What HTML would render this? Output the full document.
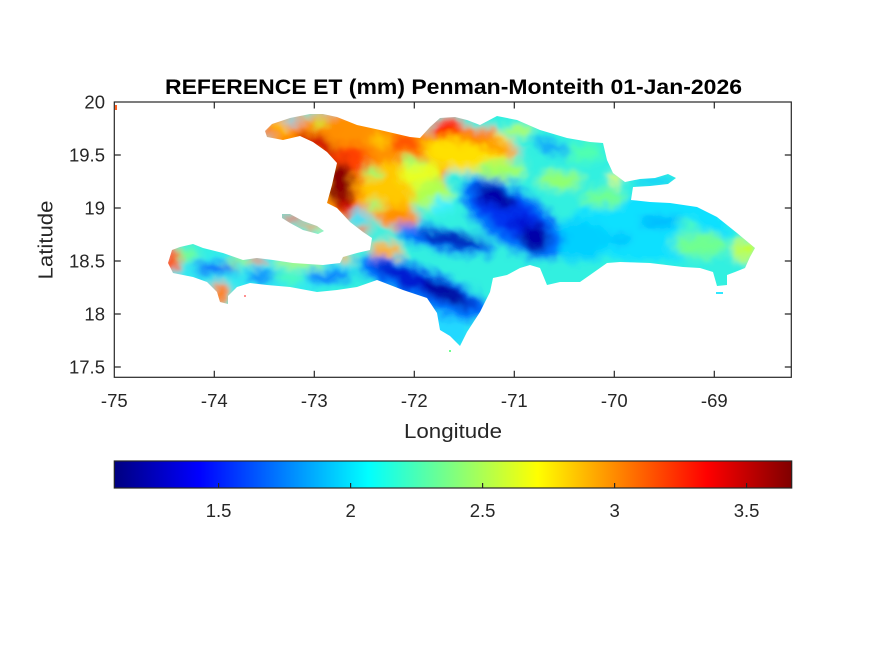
<!DOCTYPE html>
<html><head><meta charset="utf-8"><style>
html,body{margin:0;padding:0;background:#fff}
svg{display:block}
text{font-family:"Liberation Sans",Arial,sans-serif;fill:#262626}
</style></head><body>
<svg width="875" height="656" viewBox="0 0 875 656" xmlns="http://www.w3.org/2000/svg">
<defs>
<linearGradient id="jet" x1="0" y1="0" x2="1" y2="0">
<stop offset="0" stop-color="#000080"/>
<stop offset="0.125" stop-color="#0000ff"/>
<stop offset="0.375" stop-color="#00ffff"/>
<stop offset="0.625" stop-color="#ffff00"/>
<stop offset="0.875" stop-color="#ff0000"/>
<stop offset="1" stop-color="#800000"/>
</linearGradient>
<clipPath id="isl">
<path d="M265,131 L272,124 L290,118 L310,114 L323,114 L337,117 L357,125 L380,130 L410,137 L420,138 L430,127 L440,118 L455,117 L467,120 L480,125 L497,116 L517,120 L540,130 L567,138 L590,142 L603,143 L607,160 L613,173 L625,182 L640,179 L655,178 L668,174 L676,178 L668,184 L650,186 L633,187 L631,200 L650,202 L670,203 L697,207 L717,217 L737,233 L755,248 L750,257 L745,268 L735,272 L727,275 L727,285 L717,286 L713,272 L700,268 L683,267 L650,263 L620,262 L607,263 L590,275 L580,282 L560,282 L547,285 L540,268 L530,265 L520,268 L507,275 L493,278 L490,292 L480,312 L467,332 L460,346 L450,336 L440,330 L437,313 L427,298 L403,290 L377,280 L357,287 L337,290 L317,292 L290,287 L267,285 L250,283 L237,287 L228,296 L228,304 L220,302 L217,292 L207,282 L193,277 L173,273 L168,263 L172,250 L180,247 L193,244 L203,248 L223,253 L243,260 L257,258 L273,260 L293,263 L323,265 L340,263 L343,257 L357,253 L370,250 L372,238 L363,232 L350,222 L337,208 L327,203 L332,185 L337,163 L327,152 L313,142 L300,136 L283,140 L267,137 Z"/>
<path d="M282,214 L290,214 L303,221 L317,226 L324,231 L318,234 L303,230 L290,223 L282,218 Z"/>
</clipPath>
<filter id="bl" x="140" y="90" width="640" height="280" filterUnits="userSpaceOnUse">
<feGaussianBlur stdDeviation="4.5" result="b"/>
<feTurbulence type="fractalNoise" baseFrequency="0.07" numOctaves="2" seed="5" result="t"/>
<feDisplacementMap in="b" in2="t" scale="12" xChannelSelector="R" yChannelSelector="G"/>
</filter>
</defs>

<!-- map -->
<g clip-path="url(#isl)">
<g filter="url(#bl)">
<rect x="140" y="90" width="640" height="280" fill="#30f0e0"/>
<!-- east DR -->
<ellipse cx="650" cy="228" rx="80" ry="35" fill="#10e0ff"/>
<ellipse cx="580" cy="240" rx="28" ry="22" fill="#00d0ff"/>
<ellipse cx="605" cy="198" rx="22" ry="9" fill="#70ff90"/>
<ellipse cx="700" cy="245" rx="28" ry="12" fill="#70ff90"/>
<ellipse cx="745" cy="250" rx="12" ry="12" fill="#c0ff40"/>
<ellipse cx="660" cy="222" rx="22" ry="6" fill="#00b8ff"/>
<ellipse cx="620" cy="240" rx="12" ry="5" fill="#00c0ff"/>
<ellipse cx="690" cy="225" rx="10" ry="5" fill="#50ffb0"/>
<ellipse cx="615" cy="180" rx="6" ry="6" fill="#f0ff00"/>
<ellipse cx="655" cy="182" rx="22" ry="4" fill="#00c8ff"/>
<ellipse cx="585" cy="152" rx="18" ry="10" fill="#50ffb0"/>
<ellipse cx="560" cy="180" rx="22" ry="10" fill="#90ff70"/>
<ellipse cx="550" cy="147" rx="18" ry="5" transform="rotate(15 550 147)" fill="#0090ff"/>
<!-- Haiti south peninsula -->
<ellipse cx="260" cy="272" rx="95" ry="22" fill="#30e8f0"/>
<ellipse cx="215" cy="268" rx="22" ry="5" fill="#0030ff"/>
<ellipse cx="262" cy="276" rx="16" ry="5" fill="#0070ff"/>
<ellipse cx="185" cy="255" rx="14" ry="7" fill="#70ff90"/>
<ellipse cx="240" cy="262" rx="14" ry="4" fill="#a0ff60"/>
<ellipse cx="300" cy="263" rx="28" ry="5" fill="#b0ff50"/>
<ellipse cx="290" cy="278" rx="14" ry="5" fill="#50ffb0"/>
<ellipse cx="172" cy="260" rx="9" ry="12" fill="#ff5000"/>
<ellipse cx="220" cy="293" rx="10" ry="11" fill="#ff8000"/>
<ellipse cx="258" cy="260" rx="8" ry="4" fill="#ff6000"/>
<ellipse cx="345" cy="258" rx="8" ry="5" fill="#ffb000"/>
<ellipse cx="330" cy="277" rx="25" ry="6" fill="#0070ff"/>
<!-- Barahona -->
<ellipse cx="450" cy="325" rx="22" ry="22" fill="#20d8ff"/>
<!-- Haiti north / centre -->
<ellipse cx="355" cy="165" rx="95" ry="55" fill="#ff9000"/>
<ellipse cx="300" cy="128" rx="40" ry="14" fill="#ff8c00"/>
<ellipse cx="292" cy="122" rx="8" ry="4" fill="#30e0ff"/>
<ellipse cx="320" cy="124" rx="7" ry="4" fill="#c0ff40"/>
<ellipse cx="280" cy="128" rx="8" ry="4" fill="#ffd000"/>
<ellipse cx="265" cy="131" rx="8" ry="5" fill="#ff7000"/>
<ellipse cx="390" cy="190" rx="30" ry="28" fill="#ffc800"/>
<ellipse cx="420" cy="175" rx="20" ry="14" fill="#e8ff20"/>
<ellipse cx="350" cy="160" rx="20" ry="15" fill="#ff4000"/>
<ellipse cx="318" cy="145" rx="22" ry="8" transform="rotate(30 318 145)" fill="#d00000"/>
<ellipse cx="405" cy="142" rx="15" ry="8" fill="#ff5000"/>
<ellipse cx="380" cy="140" rx="10" ry="5" fill="#ffd000"/>
<ellipse cx="372" cy="172" rx="9" ry="6" fill="#90ff70"/>
<ellipse cx="412" cy="162" rx="12" ry="5" fill="#90ff70"/>
<ellipse cx="360" cy="215" rx="10" ry="6" fill="#20e0ff"/>
<ellipse cx="398" cy="218" rx="20" ry="12" fill="#ff9000"/>
<ellipse cx="375" cy="205" rx="8" ry="5" fill="#80ff80"/>
<ellipse cx="362" cy="230" rx="8" ry="5" fill="#ff6000"/>
<ellipse cx="345" cy="205" rx="10" ry="10" fill="#e00000"/>
<ellipse cx="340" cy="183" rx="13" ry="22" fill="#8a0000"/>
<!-- North DR -->
<ellipse cx="470" cy="150" rx="45" ry="22" fill="#ffe000"/>
<ellipse cx="500" cy="170" rx="25" ry="10" fill="#a0ff60"/>
<ellipse cx="448" cy="128" rx="18" ry="10" fill="#ff2800"/>
<ellipse cx="475" cy="135" rx="22" ry="8" fill="#ff8000"/>
<ellipse cx="502" cy="148" rx="20" ry="5" transform="rotate(20 502 148)" fill="#ff9000"/>
<ellipse cx="520" cy="130" rx="15" ry="6" fill="#b0ff50"/>
<ellipse cx="432" cy="195" rx="20" ry="15" fill="#b0ff50"/>
<ellipse cx="442" cy="205" rx="12" ry="7" fill="#40f0ff"/>
<!-- Cordillera Central -->
<ellipse cx="512" cy="218" rx="60" ry="28" transform="rotate(35 512 218)" fill="#0070ff"/>
<ellipse cx="510" cy="214" rx="46" ry="18" transform="rotate(35 510 214)" fill="#0030f0"/>
<ellipse cx="495" cy="196" rx="22" ry="10" transform="rotate(20 495 196)" fill="#0000a8"/>
<ellipse cx="535" cy="238" rx="15" ry="13" fill="#0000a8"/>
<ellipse cx="520" cy="222" rx="9" ry="7" fill="#0010d0"/>
<!-- Sierra de Neiba -->
<ellipse cx="445" cy="240" rx="50" ry="12" transform="rotate(12 445 240)" fill="#0070ff"/>
<ellipse cx="452" cy="240" rx="34" ry="6" transform="rotate(12 452 240)" fill="#0000b0"/>
<ellipse cx="385" cy="250" rx="18" ry="8" fill="#ffb000"/>
<!-- Massif de la Selle / Bahoruco -->
<ellipse cx="425" cy="288" rx="72" ry="19" transform="rotate(22 425 288)" fill="#0070ff"/>
<ellipse cx="425" cy="285" rx="56" ry="10" transform="rotate(22 425 285)" fill="#0018d0"/>
<ellipse cx="445" cy="293" rx="28" ry="6" transform="rotate(28 445 293)" fill="#000098"/>
<!-- Gonave -->
<ellipse cx="292" cy="218" rx="10" ry="4" fill="#ff2000"/>
<ellipse cx="310" cy="226" rx="10" ry="4" fill="#ff9000"/>
<ellipse cx="322" cy="232" rx="4" ry="3" fill="#ffff00"/>
</g>
</g>
<!-- tiny specks -->
<rect x="115" y="105" width="2" height="5" fill="#ff6020"/>
<rect x="449" y="350" width="2" height="2" fill="#70ff90"/>
<rect x="716" y="292" width="7" height="2" fill="#30e8ff"/>
<rect x="244" y="295" width="2" height="2" fill="#ff9090"/>

<!-- axes box -->
<g stroke="#262626" stroke-width="1.2" fill="none">
<rect x="114.3" y="102" width="677" height="275.3"/>
<path d="M214.3,377.3v-6.5M314.3,377.3v-6.5M414.3,377.3v-6.5M514.3,377.3v-6.5M614.3,377.3v-6.5M714.3,377.3v-6.5
M214.3,102v6.5M314.3,102v6.5M414.3,102v6.5M514.3,102v6.5M614.3,102v6.5M714.3,102v6.5
M114.3,155h6.5M114.3,208h6.5M114.3,261h6.5M114.3,314h6.5M114.3,367h6.5
M791.3,155h-6.5M791.3,208h-6.5M791.3,261h-6.5M791.3,314h-6.5M791.3,367h-6.5"/>
</g>

<!-- title -->
<text x="165" y="94" font-size="21" font-weight="bold" style="fill:#000" textLength="577" lengthAdjust="spacingAndGlyphs">REFERENCE ET (mm) Penman-Monteith 01-Jan-2026</text>

<!-- x tick labels -->
<g font-size="18.5" text-anchor="middle">
<text x="114.3" y="407">-75</text>
<text x="214.3" y="407">-74</text>
<text x="314.3" y="407">-73</text>
<text x="414.3" y="407">-72</text>
<text x="514.3" y="407">-71</text>
<text x="614.3" y="407">-70</text>
<text x="714.3" y="407">-69</text>
</g>
<!-- y tick labels -->
<g font-size="18.5" text-anchor="end">
<text x="105" y="108.5">20</text>
<text x="105" y="161.5">19.5</text>
<text x="105" y="214.5">19</text>
<text x="105" y="267.5">18.5</text>
<text x="105" y="320.5">18</text>
<text x="105" y="373.5">17.5</text>
</g>
<text x="453" y="438" font-size="20" text-anchor="middle" textLength="98" lengthAdjust="spacingAndGlyphs">Longitude</text>
<text transform="translate(52.5,240) rotate(-90)" font-size="20" text-anchor="middle" textLength="79" lengthAdjust="spacingAndGlyphs">Latitude</text>

<!-- colorbar -->
<rect x="114.3" y="461" width="677.4" height="27" fill="url(#jet)" stroke="#262626" stroke-width="1.2"/>
<g stroke="#262626" stroke-width="1.2">
<path d="M218.6,488v-5M350.6,488v-5M482.6,488v-5M614.6,488v-5M746.6,488v-5"/>
</g>
<g font-size="18.5" text-anchor="middle">
<text x="218.6" y="517">1.5</text>
<text x="350.6" y="517">2</text>
<text x="482.6" y="517">2.5</text>
<text x="614.6" y="517">3</text>
<text x="746.6" y="517">3.5</text>
</g>
</svg>
</body></html>
